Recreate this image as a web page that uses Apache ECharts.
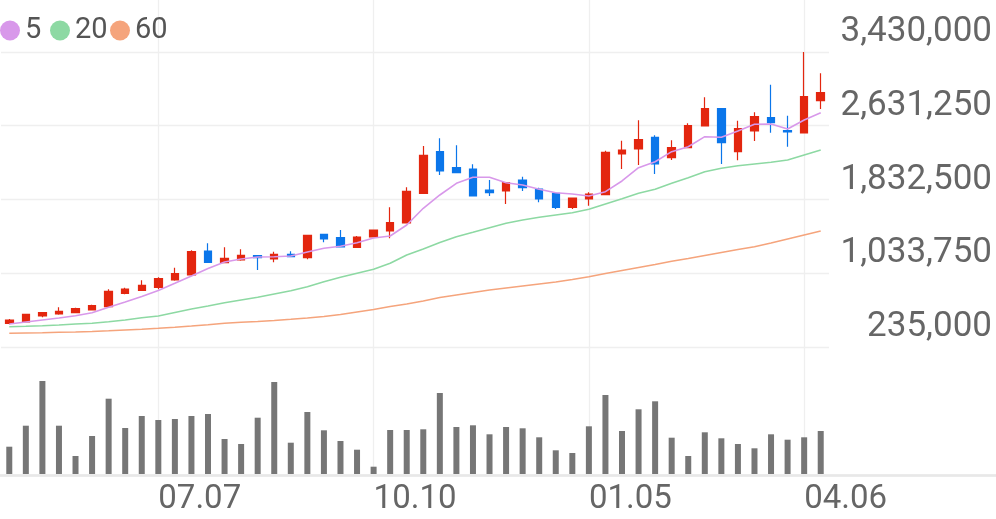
<!DOCTYPE html>
<html>
<head>
<meta charset="utf-8">
<title>주봉 차트</title>
<script src="https://cdn.jsdelivr.net/npm/echarts@6/dist/echarts.min.js"></script>
<style>
  html, body { margin: 0; padding: 0; background: #fff; }
  #chart { width: 996px; height: 519px; }
</style>
</head>
<body>
<div id="chart"></div>
<script>
// 주봉 날짜
var dates = ['05.05','05.12','05.19','05.26','06.02','06.09','06.16','06.23','06.30','07.07',
             '07.14','07.21','07.28','08.04','08.11','08.18','08.25','09.01','09.08','09.15',
             '09.22','09.29','10.10','10.13','10.20','10.27','11.03','11.10','11.17','11.24',
             '12.01','12.08','12.15','12.22','12.29','01.05','01.12','01.19','01.26','02.02',
             '02.09','02.16','02.23','03.02','03.09','03.16','03.23','03.30','04.06','04.13'];

// 시가 / 종가 / 저가 / 고가
var opens  = [491700, 505800, 570700, 592400, 606500, 635700, 671500, 816600, 849100, 881600,
              960600, 1014800, 1274700, 1148000, 1177300, 1223800, 1188100, 1239000, 1202200, 1455600,
              1418800, 1314800, 1426400, 1491300, 1578000, 1899600, 2350200, 2176900, 2162800, 1935400,
              1924600, 2043700, 1946200, 1899600, 1748000, 1837900, 1884500, 2325300, 2379400, 2506200,
              2285200, 2393500, 2628500, 2815900, 2350200, 2574400, 2718400, 2577600, 2552700, 2902600];
var closes = [527400, 589200, 606500, 621600, 649800, 682300, 838300, 863200, 903200, 974700,
              1028900, 1267100, 1152300, 1195700, 1228200, 1202200, 1239000, 1213000, 1444800, 1404700,
              1318100, 1426400, 1502200, 1581200, 1921300, 2311200, 2141200, 2122800, 1870400, 1906100,
              2014500, 1960300, 1837900, 1748000, 1848700, 1892100, 2343700, 2368600, 2480200, 2217000,
              2393500, 2631800, 2815900, 2447700, 2599300, 2729300, 2664300, 2563600, 2945900, 2989200];
var lows   = [480900, 502500, 556700, 584800, 600000, 632500, 665000, 805800, 841500, 859900,
              953100, 1007200, 1152300, 1148000, 1169700, 1068900, 1152300, 1206500, 1184800, 1369000,
              1318100, 1310500, 1423100, 1412300, 1574700, 1892100, 2097800, 2122800, 1870400, 1870400,
              1783800, 1924600, 1802200, 1729600, 1729600, 1765400, 1881200, 2162800, 2206200, 2108700,
              2260300, 2387000, 2628500, 2217000, 2257100, 2466100, 2556000, 2404300, 2552700, 2812700];
var highs  = [538300, 595700, 610800, 665000, 660600, 693100, 859900, 877200, 957400, 989900,
              1093900, 1282300, 1358100, 1314800, 1293100, 1223800, 1267100, 1271500, 1444800, 1455600,
              1502200, 1437200, 1502200, 1748000, 1964600, 2411900, 2495300, 2419500, 2213700, 2043700,
              2014500, 2079400, 1960300, 1913700, 1848700, 1910500, 2361000, 2469300, 2690300, 2527800,
              2473700, 2657800, 2939400, 2815900, 2685900, 2776900, 3075800, 2740100, 3430000, 3199300];

// 이동평균선
var ma5  = [484100, 505800, 527400, 549100, 574000, 606500, 665000, 722400, 781900, 846900,
            924900, 1004000, 1085200, 1155600, 1188100, 1209700, 1213000, 1220600, 1263900, 1304000,
            1325600, 1364600, 1415500, 1437200, 1556300, 1737200, 1881200, 2008000, 2072900, 2072900,
            2014500, 1989500, 1943000, 1906100, 1892100, 1870400, 1917000, 2032900, 2176900, 2241900,
            2350200, 2404300, 2512700, 2506200, 2574400, 2647000, 2650200, 2596000, 2693500, 2772600];
var ma20 = [454900, 459200, 465700, 473300, 484100, 491700, 509000, 527400, 552300, 570700,
            608700, 646600, 679100, 714800, 744000, 773300, 809000, 844800, 888100, 942200,
            989900, 1033200, 1076500, 1141500, 1231400, 1296400, 1366800, 1429600, 1477300, 1527100,
            1574700, 1610500, 1639700, 1664600, 1689500, 1726400, 1783800, 1841200, 1899600, 1943000,
            2008000, 2068600, 2133600, 2170400, 2198600, 2217000, 2235400, 2260300, 2314500, 2368600];
var ma60 = [383400, 386600, 389900, 394200, 397500, 402900, 410500, 419100, 426700, 437500,
            449400, 462400, 476500, 491700, 502500, 511200, 522000, 535000, 549100, 565300,
            587000, 614100, 641100, 673600, 700700, 733200, 771100, 798200, 825300, 852300,
            874000, 895700, 917300, 939000, 966100, 996400, 1031000, 1063500, 1096000, 1128500,
            1163200, 1193500, 1226000, 1258500, 1291000, 1321300, 1361400, 1404700, 1448000, 1491300];

// 거래량
var volumes = [27300, 48300, 93000, 48300, 18000, 38000, 75300, 46000, 58000, 54000,
               55000, 58000, 60000, 35000, 30000, 56300, 92000, 31300, 62000, 43700,
               33000, 24300, 7300, 44000, 44000, 44700, 81000, 47000, 48700, 39700,
               47000, 45700, 36700, 23700, 21000, 47700, 79000, 43000, 64700, 72700,
               36300, 18000, 41700, 35700, 30000, 25700, 39700, 34300, 36700, 43000];

// 가격축 눈금
var yTicks = [235000, 1033750, 1832500, 2631250, 3430000];

var upColor = '#e3260f';
var downColor = '#0b76ea';
var gridColor = '#efefef';
var textColor = '#666';

// 13주마다 라벨
function labelEvery(index) {
  return index % 13 === 9;
}

var candles = dates.map(function (d, i) {
  return [opens[i], closes[i], lows[i], highs[i]];
});

var chart = echarts.init(document.getElementById('chart'));

var legendBase = {
  top: 16,
  padding: 0,
  icon: 'circle',
  itemWidth: 20,
  itemHeight: 20,
  itemGap: 0,
  textStyle: { fontSize: 29, color: '#555', fontFamily: 'Roboto' },
  selectedMode: false
};

chart.setOption({
  animation: false,
  backgroundColor: '#fff',
  legend: [
    Object.assign({}, legendBase, { left: 0, data: ['5'] }),
    Object.assign({}, legendBase, { left: 50, data: ['20'] }),
    Object.assign({}, legendBase, { left: 110, data: ['60'] })
  ],
  grid: [
    { left: 1, right: 167, top: 0, height: 347 },
    { left: 1, right: 167, top: 348, height: 126 },
    { left: 0, right: 0, top: 347, height: 128 }
  ],
  xAxis: [
    {
      gridIndex: 0, type: 'category', data: dates, boundaryGap: true,
      axisLine: { show: false }, axisTick: { show: false }, axisLabel: { show: false },
      splitLine: { show: true, interval: labelEvery, alignWithLabel: true,
                   lineStyle: { color: gridColor, width: 1.3 } }
    },
    {
      gridIndex: 1, type: 'category', data: dates, boundaryGap: true,
      axisLine: { show: false }, axisTick: { show: false },
      axisLabel: { interval: labelEvery, align: 'left', margin: 9,
                   fontSize: 33, color: textColor, fontFamily: 'Roboto' },
      splitLine: { show: true, interval: labelEvery, alignWithLabel: true,
                   lineStyle: { color: gridColor, width: 1.3 } }
    },
    {
      gridIndex: 2, type: 'value', position: 'top', min: 0, max: 1,
      axisLine: { show: true, lineStyle: { color: '#eeeeee', width: 2.5 } },
      axisTick: { show: false }, axisLabel: { show: false }, splitLine: { show: false }
    },
    {
      gridIndex: 2, type: 'value', position: 'bottom', min: 0, max: 1,
      axisLine: { show: true, lineStyle: { color: '#e8e8e8', width: 2.5 } },
      axisTick: { show: false }, axisLabel: { show: false }, splitLine: { show: false }
    }
  ],
  yAxis: [
    {
      gridIndex: 0, type: 'value', position: 'right',
      min: yTicks[0], max: 3993000, interval: yTicks[1] - yTicks[0],
      axisLine: { show: false }, axisTick: { show: false },
      axisLabel: {
        align: 'right', verticalAlign: 'bottom', margin: 163, padding: [0, 0, 2, 0],
        fontSize: 35, color: textColor, fontFamily: 'Roboto',
        formatter: function (v) {
          return yTicks.indexOf(v) >= 0 ? v.toLocaleString('en-US') : '';
        }
      },
      splitLine: {
        lineStyle: { color: [gridColor, gridColor, gridColor, gridColor, gridColor, 'rgba(0,0,0,0)'], width: 1.3 }
      }
    },
    {
      gridIndex: 1, type: 'value', min: 0, max: 126000, show: false,
      splitLine: { show: false }
    },
    {
      gridIndex: 2, type: 'value', min: 0, max: 1, show: false,
      splitLine: { show: false }
    }
  ],
  series: [
    {
      name: 'price', type: 'candlestick', xAxisIndex: 0, yAxisIndex: 0,
      data: candles, barWidth: 8, clip: false,
      itemStyle: { color: upColor, color0: downColor, borderColor: upColor, borderColor0: downColor, borderWidth: 1.2 }
    },
    {
      name: '5', type: 'line', xAxisIndex: 0, yAxisIndex: 0, data: ma5,
      showSymbol: false, symbol: 'circle',
      itemStyle: { color: '#d898ea' }, lineStyle: { color: '#d898ea', width: 1.6 }
    },
    {
      name: '20', type: 'line', xAxisIndex: 0, yAxisIndex: 0, data: ma20,
      showSymbol: false, symbol: 'circle',
      itemStyle: { color: '#8dd9a3' }, lineStyle: { color: '#8dd9a3', width: 1.6 }
    },
    {
      name: '60', type: 'line', xAxisIndex: 0, yAxisIndex: 0, data: ma60,
      showSymbol: false, symbol: 'circle',
      itemStyle: { color: '#f5a47c' }, lineStyle: { color: '#f5a47c', width: 1.6 }
    },
    {
      name: 'volume', type: 'bar', xAxisIndex: 1, yAxisIndex: 1, data: volumes,
      barWidth: 6, itemStyle: { color: '#767676' }
    }
  ]
});
</script>
</body>
</html>
